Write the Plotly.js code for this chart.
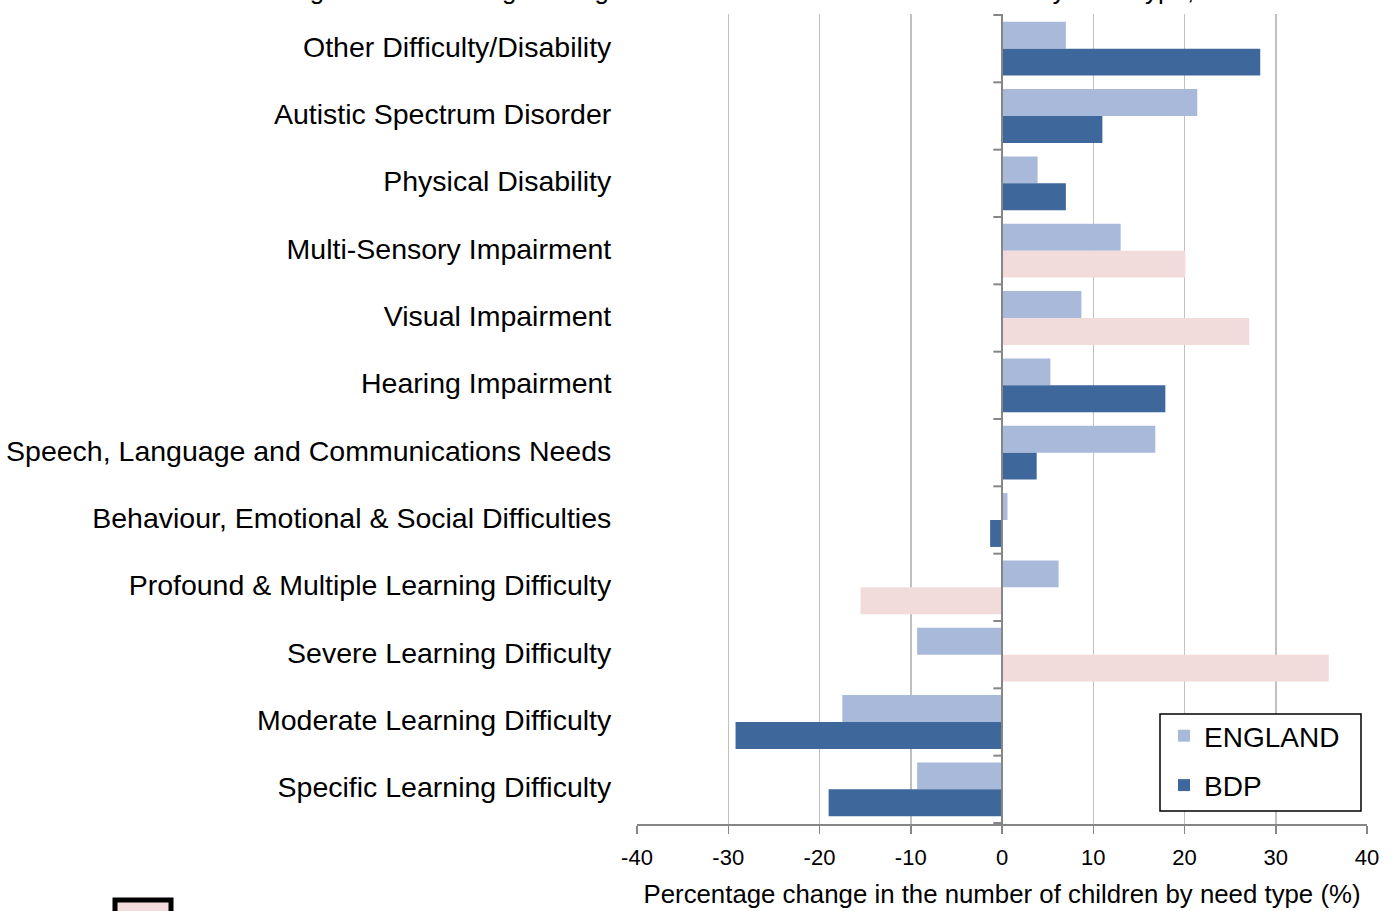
<!DOCTYPE html>
<html>
<head>
<meta charset="utf-8">
<script src="https://cdn.plot.ly/plotly-3.0.1.min.js"></script>
<style>
  html, body { margin: 0; padding: 0; background: #ffffff; }
  #chart { width: 1399px; height: 911px; }
</style>
</head>
<body>
<div id="chart"></div>
<script>
// ---- data (top-to-bottom order as in the chart) ----
const categories = [
  "Other Difficulty/Disability",
  "Autistic Spectrum Disorder",
  "Physical Disability",
  "Multi-Sensory Impairment",
  "Visual Impairment",
  "Hearing Impairment",
  "Speech, Language and Communications Needs",
  "Behaviour, Emotional & Social Difficulties",
  "Profound & Multiple Learning Difficulty",
  "Severe Learning Difficulty",
  "Moderate Learning Difficulty",
  "Specific Learning Difficulty"
];
const englandValues = [7.0, 21.4, 3.9, 13.0, 8.7, 5.3, 16.8, 0.6, 6.2, -9.3, -17.5, -9.3];
const bdpValues     = [28.3, 11.0, 7.0, 20.1, 27.1, 17.9, 3.8, -1.3, -15.5, 35.8, -29.2, -19.0];
// BDP bars flagged as based on small numbers (drawn in pink)
const bdpSmallNumberFlag = [false, false, false, true, true, false, false, false, true, true, false, false];
const seriesNames = ["ENGLAND", "BDP"];
const xTickValues = [-40, -30, -20, -10, 0, 10, 20, 30, 40];
const titleText = "Figure 7: Percentage change in the number of children with SEN by need type, 2010 to 2013";
const xAxisTitle = "Percentage change in the number of children by need type (%)";

// ---- styles ----
const colEngland = "#A9B9D9";
const colBdp = "#3E689C";
const colSmall = "#F2DCDB";
const axisGrey = "#868686";

const bdpColors = bdpSmallNumberFlag.map(f => f ? colSmall : colBdp);

const traces = [
  {
    type: "bar", orientation: "h", name: seriesNames[0],
    y: categories, x: englandValues,
    marker: { color: colEngland, line: { width: 0 } },
    legendgroup: "g1", hoverinfo: "x+y"
  },
  {
    type: "bar", orientation: "h", name: seriesNames[1],
    y: categories, x: bdpValues,
    marker: { color: bdpColors, line: { width: 0 } },
    legendgroup: "g2", hoverinfo: "x+y"
  }
];

// category boundary tick marks on the vertical axis at x = 0
const shapes = [];
for (let i = 0; i <= categories.length; i++) {
  shapes.push({
    type: "line", xref: "x", yref: "y",
    x0: -0.95, x1: 0, y0: i - 0.5, y1: i - 0.5,
    line: { color: axisGrey, width: 2 }, layer: "above"
  });
}
// vertical category axis line at x = 0
shapes.push({
  type: "line", xref: "x", yref: "paper",
  x0: 0, x1: 0, y0: 0, y1: 1,
  line: { color: axisGrey, width: 2 }, layer: "above"
});
const W = 730, H = 810, L = 637, T = 14;
const px = v => (v - L) / W;
const py = v => 1 - (v - T) / H;
// legend frame
shapes.push({
  type: "rect", xref: "paper", yref: "paper",
  x0: px(1160), x1: px(1361), y0: py(811), y1: py(714),
  fillcolor: "#ffffff", line: { color: "#000000", width: 1.5 }, layer: "above"
});
// legend key box (bottom-left, partly cut off)
shapes.push({
  type: "rect", xref: "paper", yref: "paper",
  x0: px(115), x1: px(171), y0: py(900), y1: py(925),
  fillcolor: colSmall, line: { color: "#000000", width: 5 }
});

const layout = {
  width: 1399, height: 911,
  margin: { l: 637, r: 32, t: 14, b: 87, pad: 0 },
  paper_bgcolor: "#ffffff", plot_bgcolor: "#ffffff",
  font: { family: "Liberation Sans, Arial, sans-serif", color: "#000000" },
  barmode: "group", bargap: 0.2, bargroupgap: 0,
  showlegend: true,
  legend: {
    x: px(1164), y: py(711), xanchor: "left", yanchor: "top",
    bgcolor: "rgba(0,0,0,0)", borderwidth: 0,
    font: { size: 28, family: "Liberation Sans, Arial, sans-serif", color: "#000000" },
    traceorder: "grouped", tracegroupgap: 10
  },
  xaxis: {
    range: [-40, 40], tickvals: xTickValues, ticktext: xTickValues.map(String),
    showgrid: true, gridcolor: "#C0C0C0", gridwidth: 1.5,
    zeroline: false,
    showline: true, linecolor: axisGrey, linewidth: 2,
    ticks: "outside", ticklen: 8, tickwidth: 1.5, tickcolor: axisGrey,
    ticklabelstandoff: 5,
    tickfont: { size: 22, color: "#000000" },
    title: { text: xAxisTitle, font: { size: 25.8, color: "#000000" }, standoff: 16 },
    fixedrange: true
  },
  yaxis: {
    type: "category", autorange: "reversed",
    showgrid: false, zeroline: false, showline: false,
    ticks: "outside", ticklen: 19, tickcolor: "rgba(0,0,0,0)",
    ticklabelshift: 2,
    tickfont: { size: 28.5, color: "#000000" },
    fixedrange: true
  },
  shapes: shapes,
  annotations: [
    {
      text: titleText, xref: "paper", yref: "paper",
      x: px(1355), y: py(7), xanchor: "right", yanchor: "bottom",
      showarrow: false, font: { size: 26, color: "#000000" }
    }
  ]
};

Plotly.newPlot("chart", traces, layout, { displayModeBar: false, staticPlot: true });
</script>
</body>
</html>
